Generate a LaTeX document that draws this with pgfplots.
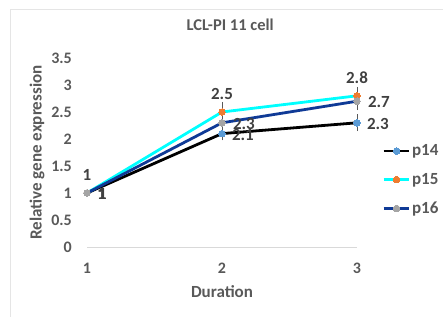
\documentclass[border=0pt]{standalone}
\usepackage{pgfplots}
\pgfplotsset{compat=1.18}
\usepackage{fontspec}
\setmainfont{Carlito}
\definecolor{tickgray}{HTML}{595959}
\definecolor{lblgray}{HTML}{404040}
\definecolor{mblue}{HTML}{5B9BD5}
\definecolor{morange}{HTML}{ED7D31}
\definecolor{mgray}{HTML}{A5A5A5}
\definecolor{navyl}{HTML}{0F3A96}
\definecolor{cyanl}{HTML}{00FFFF}
\definecolor{errc}{HTML}{595959}
\begin{document}
\begin{tikzpicture}
\useasboundingbox (0,0) rectangle (443pt,316pt);
\draw[gray!20, line width=1pt] (10pt,-5pt) -- (10pt,306pt) -- (450pt,306pt);
\begin{axis}[
  at={(87pt,69pt)}, anchor=south west, scale only axis,
  width=270pt, height=189pt,
  xmin=1, xmax=3, ymin=0, ymax=3.5,
  xtick={1,2,3}, ytick={0,0.5,1,1.5,2,2.5,3,3.5},
  axis x line=bottom, axis y line=left,
  x axis line style={draw=gray!30, line width=0.8pt, -},
  y axis line style={draw=none},
  major tick length=0pt,
  /pgf/number format/assume math mode=true,
  ticklabel style={font=\fontsize{16}{18}\selectfont\bfseries, text=tickgray},
  xticklabel style={anchor=center, yshift=-21pt},
  yticklabel style={anchor=east, inner sep=0pt, xshift=-15pt},
  xlabel={Duration}, ylabel={Relative gene expression},
  label style={font=\fontsize{17}{19}\selectfont\bfseries, text=tickgray},
  xlabel style={at={(axis description cs:0.5,0)}, anchor=center, yshift=-45pt},
  ylabel style={at={(axis description cs:-0.185,0.5)}, anchor=center},
  title={LCL-PI 11 cell},
  title style={at={(axis description cs:0.53,1.143)}, anchor=center, font=\fontsize{16.5}{18}\selectfont\bfseries, text=tickgray},
  legend style={at={(axis description cs:1.0926,0.355)}, anchor=west, draw=none, fill=none,
    font=\fontsize{17}{19}\selectfont\bfseries, text=tickgray, row sep=12pt, inner sep=0pt,
    nodes={inner xsep=2pt}},
  legend cell align=left,
  legend image code/.code={\draw[mark repeat=2,mark phase=2,#1] plot coordinates {(0pt,0pt) (13pt,0pt) (25pt,0pt)};},
  clip=false,
]
\addplot[draw=black, line width=2.8pt, mark=*, mark size=3.3pt,
  mark options={fill=mblue, draw=mblue, line width=0pt},
  nodes near coords,
  every node near coord/.append style={anchor=west, xshift=10pt, yshift=-1pt, inner sep=0pt, font=\fontsize{17}{19}\selectfont\bfseries, text=lblgray},
  error bars/.cd, y dir=both, y explicit,
  error bar style={line width=0.6pt, draw=errc},
  error mark options={mark size=3pt, line width=0.6pt, draw=errc}]
coordinates {(1,1) +- (0,0) (2,2.1) +- (0,0.07) (3,2.3) +- (0,0.1)};
\addlegendentry{p14}
\addplot[draw=cyanl, line width=2.8pt, mark=*, mark size=3.3pt,
  mark options={fill=morange, draw=morange, line width=0pt},
  nodes near coords,
  every node near coord/.append style={anchor=center, yshift=18pt, inner sep=0pt, font=\fontsize{17}{19}\selectfont\bfseries, text=lblgray},
  error bars/.cd, y dir=both, y explicit,
  error bar style={line width=0.6pt, draw=errc},
  error mark options={mark size=3pt, line width=0.6pt, draw=errc}]
coordinates {(1,1) +- (0,0) (2,2.5) +- (0,0.13) (3,2.8) +- (0,0.11)};
\addlegendentry{p15}
\addplot[draw=navyl, line width=2.8pt, mark=*, mark size=3.3pt,
  mark options={fill=mgray, draw=mgray, line width=0pt},
  nodes near coords,
  every node near coord/.append style={anchor=west, xshift=11pt, yshift=-1pt, inner sep=0pt, font=\fontsize{17}{19}\selectfont\bfseries, text=lblgray},
  error bars/.cd, y dir=both, y explicit,
  error bar style={line width=0.6pt, draw=errc},
  error mark options={mark size=3pt, line width=0.6pt, draw=errc}]
coordinates {(1,1) +- (0,0) (2,2.3) +- (0,0.1) (3,2.7) +- (0,0.11)};
\addlegendentry{p16}
\end{axis}
\end{tikzpicture}
\end{document}
